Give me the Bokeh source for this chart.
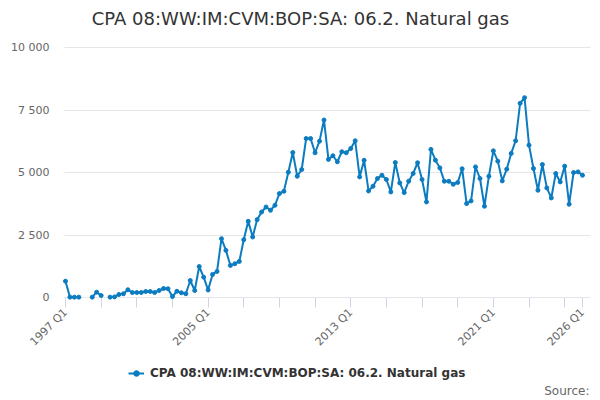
import math
from bokeh.plotting import figure
from bokeh.models import (Range1d, FixedTicker, Legend, LegendItem, Label,
                          ColumnDataSource)
from bokeh.embed import file_html
from bokeh.resources import INLINE

nan = float("nan")

title = "CPA 08:WW:IM:CVM:BOP:SA: 06.2. Natural gas"
series_name = "CPA 08:WW:IM:CVM:BOP:SA: 06.2. Natural gas"

# quarters 1997 Q1 .. 2026 Q1
years = list(range(1997, 2027))
quarters = [f"{y} Q{q}" for y in years for q in (1, 2, 3, 4)][:117]

values = [
    654, 15, 15, 15, nan, nan, 15, 213, 80, nan,
    15, 25, 120, 150, 310, 200, 200, 200, 240, 240,
    200, 280, 360, 350, 40, 250, 190, 150, 680, 280,
    1240, 815, 300, 922, 1043, 2353, 1885, 1283, 1350, 1443,
    2313, 3048, 2420, 3115, 3420, 3620, 3490, 3690, 4157, 4250,
    5010, 5800, 4850, 5120, 6360, 6360, 5790, 6255, 7100, 5525,
    5670, 5430, 5830, 5790, 5960, 6270, 4825, 5490, 4263, 4450,
    4760, 4890, 4720, 4223, 5400, 4583, 4196, 4650, 4960, 5390,
    4720, 3822, 5923, 5494, 5185, 4650, 4650, 4530, 4600, 5150,
    3757, 3862, 5225, 4760, 3650, 4852, 5867, 5454, 4665, 5133,
    5762, 6270, 7767, 7992, 6095, 5160, 4290, 5320, 4383, 3982,
    4960, 4623, 5253, 3730, 5000, 5025, 4890,
]

x_ticks = list(range(0, 113, 8)) + [116]
x_tick_labels = {0: "1997 Q1", 32: "2005 Q1", 64: "2013 Q1",
                 96: "2021 Q1", 116: "2026 Q1"}
y_ticks = [0, 2500, 5000, 7500, 10000]
y_tick_labels = {0: "0", 2500: "2 500", 5000: "5 000", 7500: "7 500",
                 10000: "10 000"}

FONT = "DejaVu Sans"
BLUE = "#0c7cc1"

source = ColumnDataSource(data={"x": list(range(len(values))),
                                "val": values, "q": quarters})

# The frame covers the whole page and both axes are pinned inside it, so that
# the title, legend and source note (all outside the data area) aren't clipped.
p = figure(frame_width=600, frame_height=400, output_backend="svg",
           toolbar_location=None, tools="", title=None,
           x_range=Range1d(-14.58, 120.04), y_range=Range1d(-4120, 11880),
           min_border_left=0, min_border_right=0,
           min_border_top=0, min_border_bottom=0)
p.outline_line_color = None
p.xgrid.grid_line_color = None
p.ygrid.grid_line_color = None

# y axis: its inward ticks serve as the grid lines
p.yaxis.level = "underlay"
p.yaxis.fixed_location = -0.22
p.yaxis.bounds = (0, 10000)
p.yaxis.ticker = FixedTicker(ticks=y_ticks)
p.yaxis.major_label_overrides = y_tick_labels
p.yaxis.axis_line_color = None
p.yaxis.minor_tick_line_color = None
p.yaxis.major_tick_line_color = "#e6e6e6"
p.yaxis.major_tick_out = 0
p.yaxis.major_tick_in = 526
p.yaxis.major_label_standoff = 15
p.yaxis.major_label_text_font = FONT
p.yaxis.major_label_text_font_size = "11px"
p.yaxis.major_label_text_color = "#666666"

# x axis, pinned at zero
p.xaxis.level = "underlay"
p.xaxis.fixed_location = 0
p.xaxis.bounds = (0, 116)
p.xaxis.ticker = FixedTicker(ticks=x_ticks)
p.xaxis.major_label_overrides = {t: x_tick_labels.get(t, "") for t in x_ticks}
p.xaxis.axis_line_color = "#ccd6eb"
p.xaxis.major_tick_line_color = "#ccd6eb"
p.xaxis.minor_tick_line_color = None
p.xaxis.major_tick_out = 10
p.xaxis.major_tick_in = 0
p.xaxis.major_label_standoff = 3
p.xaxis.major_label_orientation = math.pi / 4
p.xaxis.major_label_text_font = FONT
p.xaxis.major_label_text_font_size = "11px"
p.xaxis.major_label_text_color = "#666666"

ln = p.line("x", "val", source=source, line_color=BLUE, line_width=2)
pts = p.scatter("x", "val", source=source, size=4, fill_color=BLUE,
                line_color=BLUE)

title_label = Label(x=300, y=382, x_units="screen", y_units="screen",
                    text=title, text_font=FONT, text_font_size="18px",
                    text_color="#333333", text_align="center",
                    text_baseline="middle")
p.add_layout(title_label)

legend = Legend(items=[LegendItem(label=series_name, renderers=[ln, pts])],
                location=(128, 20), orientation="horizontal",
                border_line_color=None, background_fill_alpha=0,
                label_text_font=FONT, label_text_font_size="12px",
                label_text_font_style="bold", label_text_color="#333333",
                glyph_width=16, glyph_height=14, label_height=14,
                padding=0, margin=0, label_standoff=6)
p.add_layout(legend, "center")

src_label = Label(x=589, y=10, x_units="screen", y_units="screen",
                  text="Source:", text_font=FONT, text_font_size="12px",
                  text_color="#666666", text_align="right",
                  text_baseline="middle")
p.add_layout(src_label)

open("out.html", "w").write(file_html(p, INLINE))
